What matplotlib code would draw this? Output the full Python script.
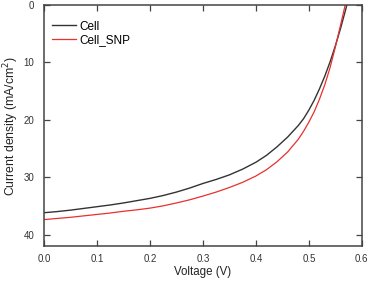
import matplotlib
matplotlib.use("Agg")
import matplotlib.pyplot as plt

plt.rcParams['font.family'] = ['Liberation Sans', 'DejaVu Sans']

v_cell = [0.00, 0.025, 0.05, 0.075, 0.10, 0.125, 0.15, 0.175, 0.20, 0.225, 0.25, 0.275,
          0.30, 0.325, 0.35, 0.375, 0.40, 0.42, 0.44, 0.46, 0.48, 0.49, 0.50, 0.51,
          0.52, 0.53, 0.54, 0.55, 0.56, 0.57, 0.575]
j_cell = [36.2, 36.0, 35.75, 35.45, 35.15, 34.85, 34.5, 34.1, 33.7, 33.2, 32.6, 31.9,
          31.1, 30.4, 29.6, 28.6, 27.4, 26.2, 24.7, 23.0, 21.0, 19.8, 18.3, 16.6,
          14.6, 12.4, 9.9, 7.1, 4.0, 0.6, -1.3]

v_snp = [0.00, 0.025, 0.05, 0.075, 0.10, 0.125, 0.15, 0.175, 0.20, 0.225, 0.25, 0.275,
         0.30, 0.325, 0.35, 0.375, 0.40, 0.42, 0.44, 0.46, 0.48, 0.49, 0.50, 0.51,
         0.52, 0.53, 0.54, 0.55, 0.56, 0.57]
j_snp = [37.4, 37.2, 37.0, 36.75, 36.5, 36.25, 35.95, 35.7, 35.4, 35.0, 34.5, 33.95,
         33.3, 32.6, 31.8, 30.9, 29.8, 28.7, 27.3, 25.6, 23.4, 22.0, 20.4, 18.6,
         16.4, 13.9, 10.9, 7.3, 3.4, -0.6]

x_ticks = [0.0, 0.1, 0.2, 0.3, 0.4, 0.5, 0.6]
y_ticks = [0, 10, 20, 30, 40]

fig = plt.figure(figsize=(3.7, 2.81), dpi=100)
ax = fig.add_axes([0.119, 0.1246, 0.859, 0.8574])

ax.plot(v_cell, j_cell, color='#333333', lw=1.0, label='Cell')
ax.plot(v_snp, j_snp, color='#e8302c', lw=0.9, label='Cell_SNP')

ax.set_xlim(0, 0.6)
ax.set_ylim(42, 0)
ax.set_xticks(x_ticks)
ax.set_xticklabels([f"{t:.1f}" for t in x_ticks])
ax.set_yticks(y_ticks)

for s in ax.spines.values():
    s.set_color('#444444')
    s.set_linewidth(1.1)
ax.tick_params(direction='in', length=4, width=0.9, color='#444444',
               top=True, right=True, labelsize=7, labelcolor='#333333', pad=7)
ax.tick_params(axis='x', pad=6)

ax.set_xlabel('Voltage (V)', fontsize=8.3, color='#222222', labelpad=1)
ax.set_ylabel('Current density (mA/cm$^2$)', fontsize=8.8, color='#222222', labelpad=2)

leg = ax.legend(loc='upper left', frameon=False, fontsize=8.5, handlelength=2.0,
                handletextpad=0.3, labelspacing=0.15, borderaxespad=0.3,
                bbox_to_anchor=(0.0, 0.97))

fig.savefig('out.png', dpi=100)
